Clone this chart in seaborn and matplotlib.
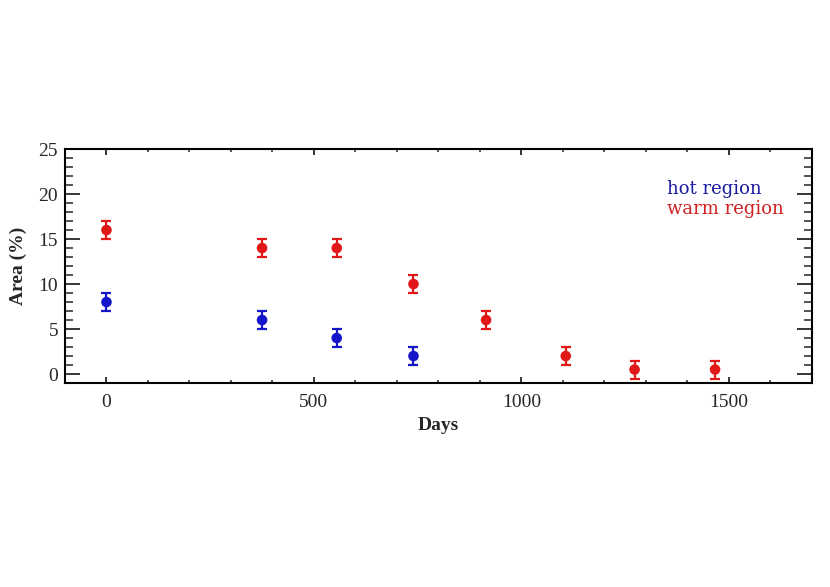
import matplotlib
matplotlib.use("Agg")
import matplotlib.pyplot as plt
from matplotlib.ticker import MultipleLocator
import seaborn as sns
import pandas as pd

# Data
hot_days = [0, 375, 555, 740]
hot_area = [8, 6, 4, 2]
hot_err = [1, 1, 1, 1]

warm_days = [0, 375, 555, 740, 915, 1107, 1273, 1467]
warm_area = [16, 14, 14, 10, 6, 2, 0.5, 0.5]
warm_err = [1, 1, 1, 1, 1, 1, 1, 1]

x_ticks = [0, 500, 1000, 1500]
y_ticks = [0, 5, 10, 15, 20, 25]

RED = "#e01818"
BLUE = "#1414c8"

sns.set_style("white")
plt.rcParams["font.family"] = ["Liberation Serif", "DejaVu Serif"]

df = pd.concat([
    pd.DataFrame({"Days": hot_days, "Area": hot_area, "err": hot_err, "region": "hot region"}),
    pd.DataFrame({"Days": warm_days, "Area": warm_area, "err": warm_err, "region": "warm region"}),
], ignore_index=True)

fig = plt.figure(figsize=(8.3, 5.87), dpi=100)
ax = fig.add_axes([0.0783, 0.3475, 0.8997, 0.3985])

palette = {"hot region": BLUE, "warm region": RED}
for region, sub in df.groupby("region"):
    ax.errorbar(sub["Days"], sub["Area"], yerr=sub["err"], fmt="none",
                ecolor=palette[region], elinewidth=1.6, capsize=3.4, capthick=1.6, zorder=2)
sns.scatterplot(data=df, x="Days", y="Area", hue="region", palette=palette,
                s=58, edgecolor="none", legend=False, ax=ax, zorder=3)

ax.set_xlim(-100, 1700)
ax.set_ylim(-1, 25)
ax.set_xticks(x_ticks)
ax.set_yticks(y_ticks)
ax.xaxis.set_minor_locator(MultipleLocator(100))
ax.yaxis.set_minor_locator(MultipleLocator(1))

ax.tick_params(axis="x", which="major", direction="in", length=4, width=1.3,
               top=True, bottom=True, labelsize=14, pad=8)
ax.tick_params(axis="x", which="minor", direction="in", length=2, width=1.1,
               top=True, bottom=True)
ax.tick_params(axis="y", which="major", direction="in", length=11, width=1.3,
               left=True, right=True, labelsize=14, pad=5)
ax.tick_params(axis="y", which="minor", direction="in", length=6, width=1.1,
               left=True, right=True)

for sp in ax.spines.values():
    sp.set_visible(True)
    sp.set_linewidth(1.5)
    sp.set_color("black")

ax.set_xlabel("Days", fontsize=14, fontweight="bold", labelpad=4)
ax.set_ylabel("Area (%)", fontsize=14, fontweight="bold", labelpad=8)

ax.text(0.806, 0.83, "hot region", transform=ax.transAxes, color="#1a1aa0",
        fontsize=13, ha="left", va="center", family=["DejaVu Serif"])
ax.text(0.806, 0.745, "warm region", transform=ax.transAxes, color="#d02020",
        fontsize=13, ha="left", va="center", family=["DejaVu Serif"])

fig.savefig("out.png", dpi=100, facecolor="white")
